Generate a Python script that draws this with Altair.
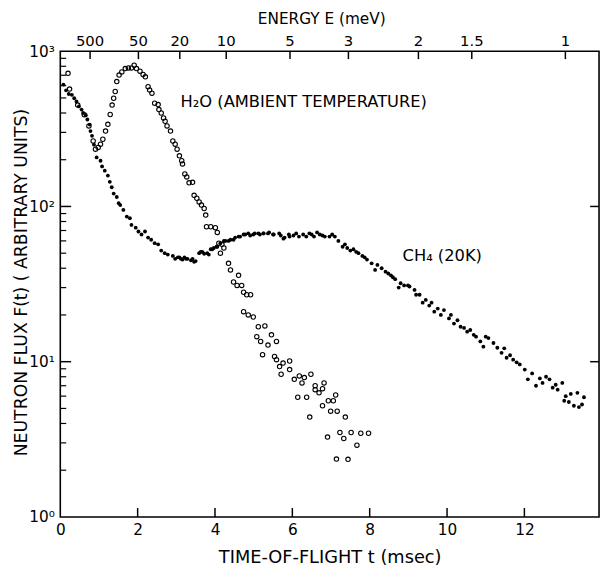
import altair as alt
import pandas as pd

# ---- data ----
ch4_t = [0.08, 0.15, 0.22, 0.30, 0.36, 0.42, 0.48, 0.55, 0.59, 0.66, 0.70, 0.76, 0.78, 0.82, 0.87,
         0.94, 1.04, 1.08, 1.15, 1.23, 1.28, 1.33, 1.38, 1.46, 1.51, 1.55, 1.63, 1.72, 1.80, 1.84,
         1.95, 2.02, 2.10, 2.19, 2.27, 2.35, 2.44, 2.53, 2.61, 2.70, 2.78, 2.91, 2.97, 3.04, 3.08,
         3.12, 3.16, 3.21, 3.25, 3.29, 3.38, 3.42, 3.46, 3.50, 3.59, 3.63, 3.67, 3.72, 3.80, 3.84,
         3.89, 3.93, 3.97, 4.04, 4.06, 4.14, 4.23, 4.27, 4.35, 4.40, 4.48, 4.52, 4.61, 4.65, 4.74,
         4.78, 4.86, 4.91, 4.99, 5.03, 5.12, 5.16, 5.25, 5.26, 5.37, 5.40, 5.50, 5.52, 5.66, 5.70,
         5.77, 5.80, 5.91, 5.93, 6.03, 6.10, 6.17, 6.28, 6.36, 6.44, 6.50, 6.56, 6.64, 6.71, 6.78,
         6.84, 6.96, 7.03, 7.10, 7.19, 7.30, 7.36, 7.42, 7.50, 7.58, 7.65, 7.71, 7.81, 7.87, 7.93,
         8.05, 8.14, 8.20, 8.31, 8.41, 8.48, 8.55, 8.60, 8.66, 8.75, 8.80, 8.89, 8.99, 9.03, 9.16,
         9.20, 9.29, 9.37, 9.45, 9.54, 9.60, 9.67, 9.76, 9.84, 9.92, 10.05, 10.10, 10.18, 10.27,
         10.35, 10.44, 10.52, 10.60, 10.69, 10.75, 10.86, 10.94, 11.00, 11.07, 11.20, 11.30, 11.41,
         11.48, 11.54, 11.63, 11.71, 11.80, 11.88, 12.01, 12.09, 12.20, 12.30, 12.40, 12.47, 12.56,
         12.65, 12.73, 12.81, 12.86, 12.98, 13.03, 13.07, 13.15, 13.20, 13.28, 13.37, 13.41, 13.49,
         13.54]
ch4_f = [610, 560, 530, 524, 498, 475, 441, 421, 400, 387, 363, 337, 306, 285, 250,
         207, 197, 181, 170, 158, 144, 133, 121, 115, 105, 102, 95, 86, 84, 76,
         73, 69, 66, 69, 63, 61, 58, 57, 52, 50, 49, 48, 46, 47, 47,
         46, 45.5, 47, 46, 46, 45, 46, 44, 44.5, 50, 51, 51, 49.6, 50, 49,
         53, 53, 54, 55, 55, 58, 60, 60, 60, 61, 61, 63, 64, 64, 66,
         66, 67, 65, 66, 67, 67, 66, 67, 67, 67, 68, 66, 66, 67, 65,
         62, 63, 66, 64, 65, 67, 64, 66, 64, 67, 66, 64, 68, 66, 65,
         64, 64, 66, 64, 60, 55, 57, 54, 52, 53, 51, 50, 48, 47, 45.5,
         43, 39, 42, 40, 38, 37, 36, 35, 34, 30, 32, 31, 31, 30.5, 29,
         27, 27, 24, 25, 23, 24, 21, 22, 20, 21.5, 19, 20, 17.6, 18.5,
         16.8, 16.5, 15.6, 16, 14.9, 14.5, 13.5, 12.5, 14.5, 14.2, 13.2, 12.3, 11.4,
         12.2, 10.6, 11.0, 10.3, 9.9, 9.6, 8.9, 7.7, 8.4, 7.0, 7.8, 7.3, 8.0,
         7.7, 6.8, 7.1, 6.6, 7.3, 5.6, 6.0, 5.5, 6.2, 5.2, 6.3, 5.1, 5.3,
         5.9]

h2o_t = [0.20, 0.24, 0.45, 0.62, 0.74, 0.85, 0.91, 0.98, 1.04, 1.10, 1.17, 1.23, 1.29, 1.34, 1.38,
         1.42, 1.46, 1.52, 1.59, 1.68, 1.76, 1.84, 1.91, 1.97, 2.06, 2.14, 2.20, 2.27, 2.31, 2.37,
         2.44, 2.53, 2.55, 2.61, 2.67, 2.71, 2.76, 2.85, 2.91, 2.97, 3.02, 3.08, 3.14, 3.16, 3.22,
         3.27, 3.33, 3.42, 3.46, 3.53, 3.59, 3.65, 3.72, 3.76, 3.78, 3.89, 4.01, 4.06, 4.10, 4.18,
         4.23, 4.14, 4.35, 4.40, 4.48, 4.57, 4.61, 4.69, 4.74, 4.82, 4.92, 4.74, 4.86, 4.99, 5.12,
         5.29, 5.08, 5.46, 5.18, 5.37, 5.59, 5.23, 5.54, 5.59, 5.76, 5.93, 5.67, 5.93, 5.71, 6.05,
         6.18, 6.31, 6.48, 6.25, 6.59, 6.82, 6.59, 6.78, 6.14, 6.37, 6.69, 7.12, 6.93, 7.06, 6.78,
         6.99, 7.16, 6.45, 7.37, 6.91, 7.23, 7.33, 7.52, 7.67, 7.77, 7.97, 7.14, 7.44]
h2o_f = [720, 570, 450, 390, 330, 264, 234, 240, 252, 271, 306, 338, 391, 450, 498,
         550, 637, 702, 736, 773, 781, 781, 813, 773, 744, 708, 684, 591, 563, 537,
         463, 453, 421, 400, 372, 354, 330, 306, 264, 252, 234, 212, 197, 188, 162,
         155, 142, 143, 118, 113, 107, 102, 97, 88, 74, 74, 73, 68, 58, 57,
         54, 50, 43, 39, 32.6, 31, 36, 31, 28, 27, 27, 21, 20, 19.4, 16.8,
         17, 14.5, 14.9, 13.5, 12.8, 13.5, 11.1, 10.8, 10.3, 9.8, 10.1, 9.3, 8.9, 8.3, 7.7,
         8.1, 7.9, 8.3, 7.3, 7.0, 7.3, 6.6, 6.7, 5.9, 5.9, 6.3, 6.1, 5.6, 5.6, 5.2,
         4.8, 4.8, 4.4, 4.4, 3.27, 3.5, 3.2, 3.5, 2.9, 3.46, 3.46, 2.36, 2.35]

x_ticks = [0, 2, 4, 6, 8, 10, 12]
y_labels = [1, 10, 100, 1000]
y_minor = [2, 3, 4, 5, 6, 7, 8, 9, 20, 30, 40, 50, 60, 70, 80, 90,
           200, 300, 400, 500, 600, 700, 800, 900]
y_major_inner = [10, 100]
energy_labels = ["500", "50", "20", "10", "5", "3", "2", "1.5", "1"]
energy_t = [0.77, 2.02, 3.09, 4.29, 5.94, 7.45, 9.26, 10.64, 13.06]
note_text = ["H\u2082O (AMBIENT TEMPERATURE)", "CH\u2084 (20K)"]
note_t = [3.11, 8.85]
note_f = [470, 48]

W, H = 546, 472
FONT = "DejaVu Sans"

xs = alt.Scale(domain=[0, 13.93], nice=False, zero=False)
ys = alt.Scale(type="log", domain=[1, 1000], nice=False)

df_ch4 = pd.DataFrame({"t": ch4_t, "f": ch4_f})
df_h2o = pd.DataFrame({"t": h2o_t, "f": h2o_f})
df_xt = pd.DataFrame({"t": x_ticks[1:]})
df_et = pd.DataFrame({"t": energy_t, "label": energy_labels})
df_ymin = pd.DataFrame({"f": y_minor})
df_ymaj = pd.DataFrame({"f": y_major_inner})
df_note = pd.DataFrame({"t": note_t, "f": note_f, "text": note_text})

sup = "['\u2070','\u00b9','\u00b2','\u00b3'][round(log(datum.value)/LN10)]"

X_AX = alt.Axis(
    values=x_ticks, ticks=False, domain=False, grid=False, labelPadding=6,
    labelFontSize=15.5, labelFlush=False, labelOverlap=False,
    title="TIME-OF-FLIGHT t (msec)", titleFontSize=18, titleY=46,
    titleBaseline="alphabetic")
Y_AX = alt.Axis(
    values=y_labels, labelExpr="'10' + " + sup, ticks=False, domain=False,
    grid=False, labelPadding=6, labelFontSize=15.5, labelFlush=False,
    labelOverlap=False, title="NEUTRON FLUX F(t) ( ARBITRARY UNITS)",
    titleFontSize=17.5, titleX=-39, titleY=234, titleAngle=-90,
    titleBaseline="middle", titleAlign="center")


def xenc():
    return alt.X("t:Q", scale=xs, axis=X_AX)


def yenc():
    return alt.Y("f:Q", scale=ys, axis=Y_AX)


ch4 = alt.Chart(df_ch4).mark_circle(size=15, color="black", opacity=1).encode(
    x=xenc(), y=yenc())

h2o = alt.Chart(df_h2o).mark_point(shape="circle", filled=False, size=20,
                                  strokeWidth=1.1, color="black", opacity=1).encode(
    x=xenc(), y=yenc())

bottom_ticks = alt.Chart(df_xt).mark_rule(color="black", strokeWidth=1.5).encode(
    x=xenc(), y=alt.value(H), y2=alt.value(H - 9))

top_ticks = alt.Chart(df_et).mark_rule(color="black", strokeWidth=1.5).encode(
    x=xenc(), y=alt.value(0), y2=alt.value(8))

top_labels = alt.Chart(df_et).mark_text(font=FONT, fontSize=15, color="black",
                                        baseline="middle").encode(
    x=xenc(), y=alt.value(-10), text="label:N")

left_minor = alt.Chart(df_ymin).mark_rule(color="black", strokeWidth=1.2).encode(
    y=yenc(), x=alt.value(0), x2=alt.value(6))

left_major = alt.Chart(df_ymaj).mark_rule(color="black", strokeWidth=1.5).encode(
    y=yenc(), x=alt.value(0), x2=alt.value(11))

right_major = alt.Chart(df_ymaj).mark_rule(color="black", strokeWidth=1.5).encode(
    y=yenc(), x=alt.value(W), x2=alt.value(W - 9))

notes = alt.Chart(df_note).mark_text(font=FONT, fontSize=16.5, color="black",
                                     align="left", baseline="middle").encode(
    x=xenc(), y=yenc(), text="text:N")

chart = alt.layer(
    ch4, h2o, bottom_ticks, top_ticks, top_labels, left_minor, left_major,
    right_major, notes
).properties(
    width=W, height=H,
    title=alt.TitleParams("ENERGY E (meV)", font=FONT, fontSize=15.5,
                          fontWeight="normal", color="black", frame="group",
                          anchor="middle", offset=7, dx=-8),
    padding={"left": 53, "top": 40, "right": 2, "bottom": 51},
    autosize=alt.AutoSizeParams(type="none"),
).configure_view(
    stroke="black", strokeWidth=1.6
).configure_axis(
    labelFont=FONT, titleFont=FONT, labelColor="black", titleColor="black",
    titleFontWeight="normal"
)

chart.save("out.html", embed_options={"renderer": "svg", "actions": False})
